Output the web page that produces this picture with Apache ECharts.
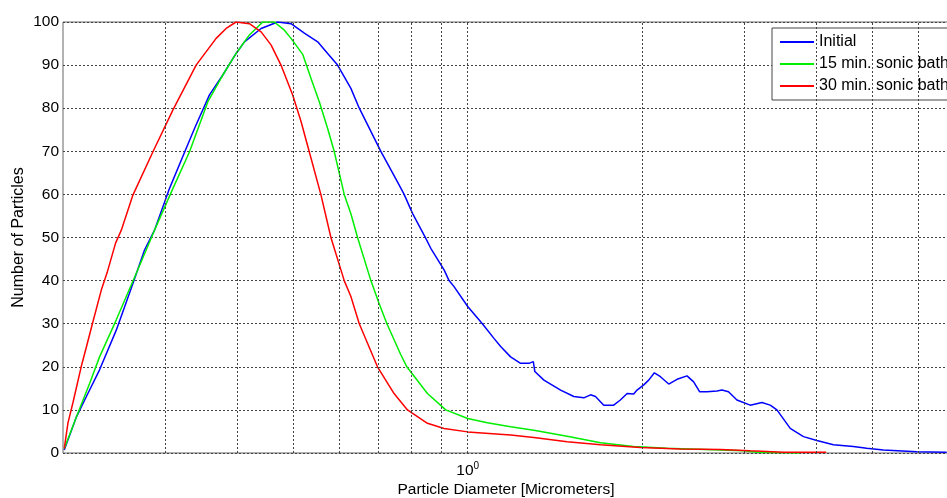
<!DOCTYPE html>
<html>
<head>
<meta charset="utf-8">
<script src="https://cdn.jsdelivr.net/npm/echarts@6/dist/echarts.min.js"></script>
<style>
html,body{margin:0;padding:0;background:#fff;}
#chart{width:947px;height:498px;}
</style>
</head>
<body>
<div id="chart"></div>
<script>
// Diameter [µm] and number of particles
const seriesNames = ['Initial', '15 min. sonic bath', '30 min. sonic bath'];

const initialX = [0.201,0.211,0.2195,0.2313,0.2472,0.2642,0.2766,0.2878,0.3055,0.3265,0.3374,0.3581,0.3776,0.3981,0.4115,0.4397,0.4697,0.4953,0.5222,0.5507,0.5729,0.596,0.6284,0.6497,0.7079,0.7563,0.7766,0.8029,0.8465,0.8634,0.9103,0.9285,0.9471,1.0,1.060,1.110,1.140,1.186,1.234,1.276,1.298,1.306,1.354,1.447,1.525,1.587,1.630,1.662,1.718,1.787,1.835,1.885,1.935,1.961,2.014,2.054,2.101,2.152,2.224,2.299,2.392,2.456,2.516,2.590,2.694,2.749,2.821,2.917,3.075,3.222,3.330,3.420,3.606,3.801,4.009,4.281,4.634,4.888,5.222,5.962,6.716];
const initialY = [0.7,8.4,13.1,19.3,28.5,39.4,47.1,51.7,61.4,70.7,75.3,83.1,87.7,92.7,95.4,98.5,100,99.6,97.4,95.4,92.7,90,84.6,80,70,62.9,60,55.6,49.8,47.5,42.5,40,38.6,34,30,26.6,24.7,22.3,20.8,20.8,21.2,18.9,16.9,14.6,13.1,12.8,13.5,13.1,11.1,11.1,12.3,13.8,13.7,14.6,15.8,16.9,18.6,17.7,16.0,17.1,17.9,16.5,14.2,14.2,14.4,14.6,14.2,12.3,11.1,11.7,11.1,10.0,5.7,3.8,2.9,1.9,1.5,1.1,0.7,0.3,0.15];

const min15X = [0.201,0.211,0.2224,0.2313,0.2472,0.2677,0.2878,0.3097,0.3308,0.3558,0.3776,0.3981,0.4197,0.4426,0.4634,0.4824,0.4953,0.5188,0.5363,0.5542,0.5729,0.588,0.612,0.6284,0.6453,0.6804,0.7030,0.7252,0.7664,0.7850,0.8520,0.9164,1.0,1.081,1.186,1.301,1.485,1.696,1.935,2.210,2.731,2.991,3.162,3.751];
const min15Y = [1,8.4,16.2,22.3,30.9,41.7,51.7,61.4,69.9,81.5,87.7,92.7,97,100,100,98.1,96.2,92.5,86.9,81.5,75.3,70,60,55.5,50,40,34.7,30,22.8,20,13.8,10,8.0,7.0,6.1,5.3,3.9,2.4,1.5,1.1,0.7,0.5,0.2,0.0];

const min30X = [0.201,0.204,0.208,0.215,0.2195,0.2248,0.2329,0.2383,0.2465,0.2522,0.2642,0.2860,0.3097,0.3396,0.3677,0.3826,0.3981,0.4197,0.4397,0.4574,0.4759,0.4987,0.5154,0.5363,0.5579,0.5804,0.612,0.6284,0.6497,0.6985,0.7461,0.787,0.8520,0.9103,1.0,1.186,1.301,1.485,1.696,1.987,2.329,2.731,3.075,3.507,4.159];
const min30Y = [1,7,11.6,20,24.6,30,37.8,41.8,48.7,51.7,59.9,69.9,79.6,90,96.2,98.5,100,99.6,97.7,94.7,90,83,76.9,68.4,59.9,50,40,36.3,30,20,13.8,10,6.9,5.7,4.9,4.2,3.6,2.6,1.9,1.3,0.9,0.8,0.5,0.2,0.15];

// Vertical grid positions on the log axis (minor decades)
const xGridValues = [0.3,0.4,0.5,0.6,0.7,0.8,0.9,1,2,3,4,5,6];
const yTicks = [0,10,20,30,40,50,60,70,80,90,100];

const xMin = 0.2, xMax = 6.78;
const colors = ['#0000ff', '#00ee00', '#ff0000'];
const FONT = "'Liberation Sans', Arial, sans-serif";

function zip(xs, ys){ return xs.map((x,i)=>[x, ys[i]]); }

const chart = echarts.init(document.getElementById('chart'));
const dotted = {type:[2,2], color:'#444', width:1};

chart.setOption({
  animation:false,
  textStyle:{fontFamily:FONT},
  grid:{left:63, top:22, right:-2, bottom:45, show:true, borderColor:'#666', borderWidth:1,
        outerBoundsMode:'none', containLabel:false},
  legend:{
    data:seriesNames,
    orient:'vertical',
    left:772, top:28,
    padding:[6,12,6,7],
    itemWidth:34, itemHeight:14, itemGap:6,
    itemStyle:{opacity:0},
    backgroundColor:'#fff', borderColor:'#444', borderWidth:1, borderRadius:0,
    textStyle:{fontSize:16, color:'#000', fontFamily:FONT}
  },
  xAxis:{
    type:'log', logBase:10, min:xMin, max:xMax,
    name:'Particle Diameter [Micrometers]',
    nameLocation:'middle', nameGap:29, nameMoveOverlap:false,
    nameTextStyle:{fontSize:15.5, color:'#000', fontFamily:FONT},
    axisLine:{show:false},
    axisTick:{show:false},
    splitLine:{show:false},
    axisLabel:{
      margin:8, color:'#000', showMinLabel:false, showMaxLabel:false,
      formatter:function(v){ return Math.abs(v-1)<1e-9 ? '{b|10}{s|0}' : ''; },
      rich:{
        b:{fontSize:15.5, color:'#000', fontFamily:FONT},
        s:{fontSize:10, color:'#000', fontFamily:FONT, padding:[0,0,10,0]}
      }
    }
  },
  yAxis:{
    type:'value', min:yTicks[0], max:yTicks[yTicks.length-1], interval:10,
    name:'Number of Particles',
    nameLocation:'middle', nameGap:36, nameMoveOverlap:false,
    nameTextStyle:{fontSize:16, color:'#000', fontFamily:FONT},
    axisLine:{show:false},
    axisTick:{show:false},
    axisLabel:{margin:4, fontSize:15.5, color:'#000', fontFamily:FONT},
    splitLine:{show:true, lineStyle:dotted}
  },
  series:[
    {
      name:'grid', type:'line', data:[], z:1, silent:true,
      markLine:{
        silent:true, symbol:'none', label:{show:false},
        lineStyle:dotted, animation:false,
        data:xGridValues.map(v=>({xAxis:v}))
      }
    },
    {name:seriesNames[0], type:'line', data:zip(initialX, initialY), symbol:'none', z:3,
     lineStyle:{color:colors[0], width:1.5}, itemStyle:{color:colors[0]}},
    {name:seriesNames[1], type:'line', data:zip(min15X, min15Y), symbol:'none', z:3,
     lineStyle:{color:colors[1], width:1.5}, itemStyle:{color:colors[1]}},
    {name:seriesNames[2], type:'line', data:zip(min30X, min30Y), symbol:'none', z:3,
     lineStyle:{color:colors[2], width:1.5}, itemStyle:{color:colors[2]}}
  ]
});
</script>
</body>
</html>
